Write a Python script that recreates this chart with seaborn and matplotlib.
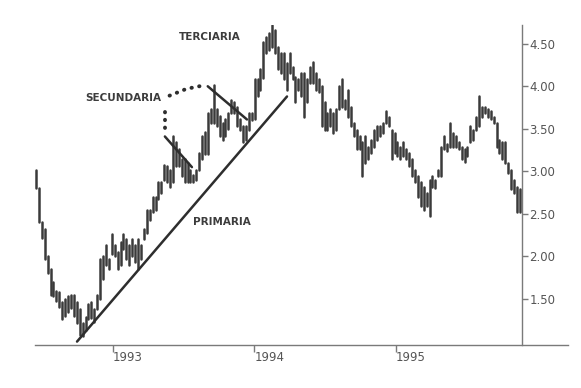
import numpy as np
import pandas as pd
import matplotlib
matplotlib.use("Agg")
import matplotlib.pyplot as plt
import seaborn as sns

# ---------------- data ----------------
inicio = 1992.456   # first bar (decimal year)
fin = 1995.876      # last bar

maximos = [3.02, 2.80, 2.40, 2.32, 2.00, 1.85, 1.70, 1.60, 1.58, 1.46,
           1.50, 1.53, 1.55, 1.55, 1.46, 1.38, 1.22, 1.29, 1.44, 1.46,
           1.38, 1.55, 1.97, 2.00, 2.14, 1.97, 2.26, 2.14, 2.05, 2.17,
           2.26, 2.20, 2.14, 2.20, 2.14, 2.20, 2.14, 2.32, 2.55, 2.55,
           2.70, 2.70, 2.87, 2.87, 3.08, 3.06, 3.02, 3.41, 3.34, 3.26,
           3.14, 3.14, 3.10, 3.02, 2.96, 3.02, 3.22, 3.41, 3.46, 3.69,
           3.73, 4.02, 3.73, 3.65, 3.57, 3.61, 3.69, 3.84, 3.81, 3.76,
           3.61, 3.53, 3.53, 3.69, 3.69, 4.08, 4.08, 4.20, 4.52, 4.58,
           4.63, 4.72, 4.66, 4.46, 4.39, 4.39, 4.27, 4.39, 4.23, 4.11,
           4.08, 4.16, 4.16, 4.08, 4.23, 4.29, 4.16, 4.08, 4.00, 3.81,
           3.69, 3.73, 3.69, 3.73, 4.00, 4.08, 3.84, 3.96, 3.76, 3.57,
           3.49, 3.41, 3.34, 3.41, 3.29, 3.37, 3.49, 3.53, 3.53, 3.57,
           3.71, 3.64, 3.49, 3.45, 3.34, 3.29, 3.34, 3.26, 3.22, 3.14,
           3.02, 2.94, 2.87, 2.82, 2.75, 2.90, 2.94, 2.90, 3.02, 3.29,
           3.41, 3.32, 3.57, 3.45, 3.41, 3.34, 3.29, 3.26, 3.29, 3.53,
           3.49, 3.64, 3.88, 3.76, 3.76, 3.73, 3.71, 3.64, 3.57, 3.37,
           3.34, 3.34, 3.10, 3.02, 2.90, 2.82, 2.79]

minimos = [2.80, 2.40, 2.22, 1.97, 1.81, 1.55, 1.53, 1.48, 1.41, 1.26,
           1.30, 1.35, 1.40, 1.30, 1.22, 1.08, 1.06, 1.14, 1.26, 1.28,
           1.23, 1.38, 1.50, 1.73, 1.90, 1.85, 2.03, 2.00, 1.85, 1.90,
           2.09, 1.97, 1.90, 2.00, 1.93, 1.85, 1.97, 2.20, 2.28, 2.43,
           2.52, 2.55, 2.67, 2.75, 2.90, 2.87, 2.82, 2.88, 3.06, 3.06,
           2.94, 2.87, 2.87, 2.87, 2.87, 2.90, 3.02, 3.14, 3.20, 3.20,
           3.57, 3.57, 3.53, 3.41, 3.37, 3.41, 3.50, 3.69, 3.69, 3.53,
           3.49, 3.34, 3.37, 3.49, 3.60, 3.62, 3.88, 3.96, 4.10, 4.39,
           4.43, 4.46, 4.39, 4.20, 4.16, 4.08, 3.96, 4.16, 4.08, 3.81,
           3.96, 3.88, 3.64, 3.81, 4.04, 4.04, 3.96, 3.93, 3.53, 3.49,
           3.49, 3.53, 3.45, 3.49, 3.73, 3.76, 3.73, 3.64, 3.53, 3.41,
           3.26, 3.26, 2.94, 3.10, 3.14, 3.22, 3.29, 3.37, 3.41, 3.45,
           3.57, 3.53, 3.14, 3.22, 3.18, 3.14, 3.18, 3.14, 3.06, 2.94,
           2.87, 2.70, 2.59, 2.55, 2.59, 2.47, 2.82, 2.80, 2.94, 2.94,
           3.26, 3.24, 3.29, 3.29, 3.29, 3.26, 3.14, 3.11, 3.18, 3.34,
           3.37, 3.49, 3.53, 3.64, 3.69, 3.64, 3.61, 3.57, 3.29, 3.22,
           3.14, 3.10, 2.98, 2.79, 2.75, 2.52, 2.52]

# trend lines (decimal year, price)
primaria_x = [1992.746, 1994.23]
primaria_y = [1.00, 3.88]
secundaria1_x = [1993.367, 1993.558]
secundaria1_y = [3.41, 3.05]
secundaria2_x = [1993.67, 1993.947]
secundaria2_y = [4.00, 3.61]
punteada_v_x = [1993.367, 1993.367]
punteada_v_y = [3.70, 3.49]
punteada_h_x = [1993.40, 1993.52, 1993.64]
punteada_h_y = [3.89, 3.97, 4.01]

etiquetas = ["TERCIARIA", "SECUNDARIA", "PRIMARIA"]
etiquetas_x = [1993.686, 1993.071, 1993.770]
etiquetas_y = [4.58, 3.866, 2.40]

anios = [1993, 1994, 1995]
precios_ticks = [1.50, 2.00, 2.50, 3.00, 3.50, 4.00, 4.50]

# ---------------- build tables ----------------
n = len(maximos)
fechas = np.linspace(inicio, fin, n)
barras = pd.DataFrame({
    "fecha": np.concatenate([fechas, fechas]),
    "precio": np.concatenate([minimos, maximos]),
    "barra": np.concatenate([np.arange(n), np.arange(n)]),
})

# ---------------- plot ----------------
sns.set_theme(style="white")
plt.rcParams["font.family"] = ["DejaVu Sans"]

fig = plt.figure(figsize=(5.81, 3.88), dpi=100)
ax = fig.add_axes([35 / 581, 1 - 345 / 388, (568 - 35) / 581, (345 - 25) / 388])

col_barras = "#3a3a3a"
sns.lineplot(data=barras, x="fecha", y="precio", units="barra", estimator=None,
             sort=False, color=col_barras, linewidth=1.8, legend=False, ax=ax)

col_lineas = "#2e2e2e"
for xs, ys in [(primaria_x, primaria_y), (secundaria1_x, secundaria1_y),
               (secundaria2_x, secundaria2_y)]:
    sns.lineplot(x=xs, y=ys, color=col_lineas, linewidth=1.8, ax=ax,
                 estimator=None, sort=False)

for xs, ys in [(punteada_v_x, punteada_v_y), (punteada_h_x, punteada_h_y)]:
    ln = sns.lineplot(x=xs, y=ys, color=col_lineas, linewidth=2.8, ax=ax,
                      estimator=None, sort=False)
    ln.lines[-1].set_linestyle((0, (0.1, 1.9)))
    ln.lines[-1].set_dash_capstyle("round")

for t, tx, ty in zip(etiquetas, etiquetas_x, etiquetas_y):
    ax.text(tx, ty, t, ha="center", va="center", fontsize=7.5,
            fontweight="bold", color="#3c3c3c")

ax.set_xlim(1992.449, 1996.216)
ax.set_ylim(0.96, 4.72)

spine_col = "#7a7a7a"
for s in ["left", "top"]:
    ax.spines[s].set_visible(False)
ax.spines["right"].set_position(("data", 1995.89))
ax.spines["right"].set_color(spine_col)
ax.spines["bottom"].set_color(spine_col)
ax.spines["right"].set_linewidth(1.0)
ax.spines["bottom"].set_linewidth(1.0)

ax.yaxis.tick_right()
ax.set_yticks(precios_ticks)
ax.set_yticklabels([f"{v:.2f}" for v in precios_ticks])
ax.tick_params(axis="y", direction="out", length=4, width=1, color=spine_col,
               labelsize=8.5, labelcolor="#555555", pad=1.5, right=True, left=False)

ax.set_xticks(anios)
ax.set_xticklabels([str(a) for a in anios])
ax.tick_params(axis="x", direction="out", length=5, width=1, color=spine_col,
               labelsize=8.5, labelcolor="#555555", pad=-1, bottom=True)
for lab in ax.get_xticklabels():
    lab.set_ha("left")

ax.set_xlabel("")
ax.set_ylabel("")
ax.grid(False)

fig.savefig("out.png", dpi=100, facecolor="white")
